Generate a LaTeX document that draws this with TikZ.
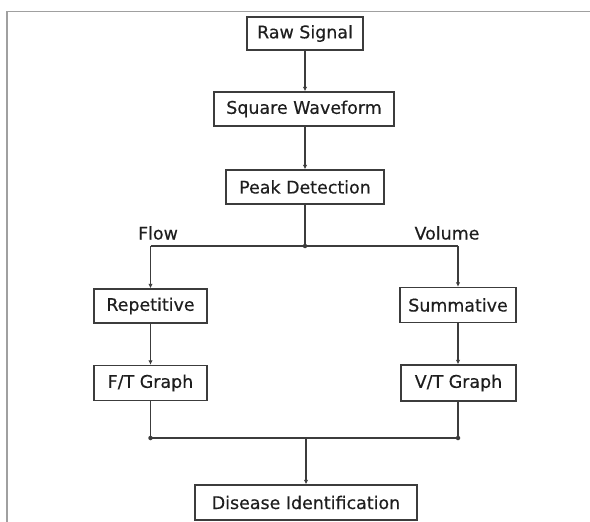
\documentclass[tikz,border=0pt]{standalone}
\usepackage{fontspec}
\setmainfont{DejaVu Sans}
\newfontfamily\boxfont{DejaVu Sans}[FakeBold=0.35]
\usetikzlibrary{arrows.meta}
\definecolor{boxline}{HTML}{3C3C3C}
\definecolor{frameline}{HTML}{A0A0A0}
\definecolor{txt}{HTML}{1E1E1E}
\begin{document}
\begin{tikzpicture}[x=1bp,y=-1bp,
  box/.style={draw=boxline,line width=1.4bp,fill=white,inner sep=0pt,
    font=\boxfont\fontsize{17.5}{20}\selectfont,text=txt,anchor=center},
  lbl/.style={font=\boxfont\fontsize{17.5}{20}\selectfont,text=txt,inner sep=0pt},
  conn/.style={draw=boxline,line width=1.3bp},
  arr/.style={conn,-{Latex[length=4.5bp,width=4.5bp]}},
  jdot/.style={circle,fill=boxline,inner sep=0pt,minimum size=4.5bp}]
\useasboundingbox (0,0) rectangle (590,522);
\fill[white] (0,0) rectangle (590,522);
% frame
\draw[frameline,line width=1.6bp] (7,522) -- (7,11.5) -- (590,11.5);
% nodes
\node[box,minimum width=116bp,minimum height=33bp] (raw) at (305,33.5) {Raw Signal};
\node[box,minimum width=180bp,minimum height=34bp] (sq) at (304,109) {Square Waveform};
\node[box,minimum width=158bp,minimum height=34bp] (peak) at (305,187) {Peak Detection};
\node[box,minimum width=113bp,minimum height=34bp] (rep) at (150.5,306) {Repetitive};
\node[box,minimum width=116bp,minimum height=35bp] (sum) at (458,305) {Summative};
\node[box,minimum width=113bp,minimum height=35bp] (ft) at (150.5,383) {F/T Graph};
\node[box,minimum width=115bp,minimum height=36bp] (vt) at (458.5,383) {V/T Graph};
\node[box,minimum width=222bp,minimum height=35bp] (dis) at (306,502.5) {Disease Identification};
\node[lbl] (flow) at (158,233) {Flow};
\node[lbl] (vol) at (447,233) {Volume};
% junction coordinates
\coordinate (split) at (305,246);
\coordinate (splitL) at (150.5,246);
\coordinate (splitR) at (458,246);
\coordinate (mergeL) at (150.5,438);
\coordinate (mergeR) at (458.5,438);
\coordinate (merge) at (306,438);
% connectors
\draw[arr] (raw.south) -- (sq.north -| raw.south);
\draw[arr] (sq.south -| raw.south) -- (peak.north);
\draw[conn] (peak.south) -- (split);
\node[jdot] (sd) at (split) {};
\draw[conn] (splitL) -- (splitR);
\draw[arr] (splitL) -- (rep.north);
\draw[arr] (splitR) -- (sum.north);
\draw[arr] (rep.south) -- (ft.north);
\draw[arr] (sum.south) -- (vt.north -| sum.south);
\draw[conn] (ft.south) -- (mergeL);
\draw[conn] (vt.south -| sum.south) -- (mergeR -| sum.south);
\node[jdot] (mdl) at (mergeL) {};
\node[jdot] (mdr) at (mergeR -| sum.south) {};
\draw[conn] (mergeL) -- (mergeR -| sum.south);
\draw[arr] (merge) -- (dis.north);
\end{tikzpicture}
\end{document}
